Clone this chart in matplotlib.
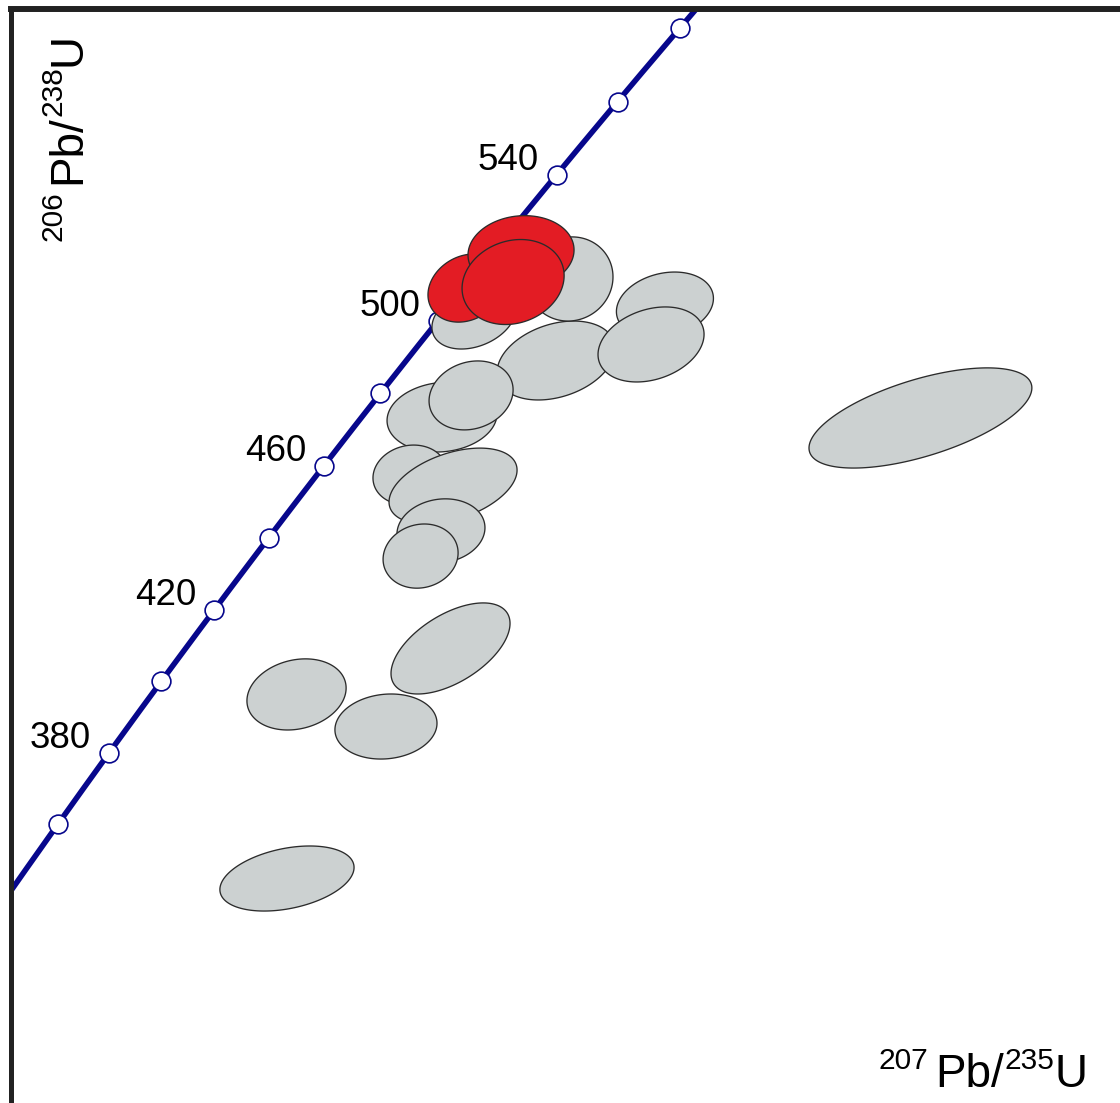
import numpy as np
import matplotlib.pyplot as plt

plt.rcParams['font.family'] = ['Liberation Sans', 'DejaVu Sans']

# U decay constants (1/yr)
lam238 = 1.55125e-10
lam235 = 9.8485e-10

# concordia age marks (Ma), labelled ones
marker_ages = [360, 380, 400, 420, 440, 460, 480, 500, 520, 540, 560, 580]
label_ages = [380, 420, 460, 500, 540]

# grey analyses: 207Pb/235U, 206Pb/238U, 2s errors, error correlation
grey_r75 = [0.7621, 0.7017, 0.7544, 0.7095, 0.6562, 0.6385, 0.6546, 0.6207,
            0.6446, 0.6379, 0.6266, 0.6432, 0.5578, 0.6074, 0.5525, 0.9038]
grey_r68 = [0.08137, 0.07881, 0.07955, 0.08257, 0.08077, 0.07620, 0.07720, 0.07353,
            0.07302, 0.07095, 0.06979, 0.06553, 0.06341, 0.06193, 0.05492, 0.07616]
grey_s75 = [0.0269, 0.0327, 0.0294, 0.0238, 0.0233, 0.0305, 0.0233, 0.0205,
            0.0355, 0.0244, 0.0208, 0.0330, 0.0275, 0.0283, 0.0372, 0.0618]
grey_s68 = [0.00152, 0.00182, 0.00173, 0.00194, 0.00143, 0.00161, 0.00159, 0.00138,
            0.00175, 0.00148, 0.00148, 0.00210, 0.00164, 0.00150, 0.00150, 0.00231]
grey_rho = [0.20, 0.30, 0.27, 0.05, 0.30, 0.10, 0.16, 0.10,
            0.42, 0.10, 0.10, 0.55, 0.18, 0.10, 0.34, 0.60]

# red (concordant) analyses
red_r75 = [0.6518, 0.6823, 0.6779]
red_r68 = [0.08215, 0.08379, 0.08243]
red_s75 = [0.0211, 0.0294, 0.0283]
red_s68 = [0.00157, 0.00170, 0.00196]
red_rho = [0.20, 0.07, 0.15]

navy = '#07078c'


def ratios(age_ma):
    t = np.asarray(age_ma, dtype=float) * 1e6
    return np.exp(lam235 * t) - 1, np.exp(lam238 * t) - 1


def ellipse(x, y, sx, sy, rho, n=200):
    t = np.linspace(0, 2 * np.pi, n)
    ex = x + sx * np.cos(t)
    ey = y + sy * (rho * np.cos(t) + np.sqrt(1 - rho ** 2) * np.sin(t))
    return ex, ey


fig = plt.figure(figsize=(11.2, 11.03), dpi=100)
ax = fig.add_axes([10.5 / 1120, 0, 1 - 10.5 / 1120, 1 - 9 / 1103])
ax.set_xlim(0.399178, 1.014473)
ax.set_ylim(0.044567, 0.095021)
ax.set_xticks([])
ax.set_yticks([])
for s in ['right', 'bottom']:
    ax.spines[s].set_visible(False)
ax.spines['left'].set_linewidth(3.6)
ax.spines['top'].set_linewidth(4.3)
for s in ['left', 'top']:
    ax.spines[s].set_color('#222222')
    ax.spines[s].set_capstyle('projecting')

# concordia
cx, cy = ratios(np.linspace(300, 620, 400))
ax.plot(cx, cy, color=navy, lw=4, zorder=2)
mx, my = ratios(marker_ages)
ax.plot(mx, my, 'o', ms=13.5, mfc='white', mec=navy, mew=1.2, zorder=3)
for age in label_ages:
    lx, ly = ratios(age)
    ax.annotate(str(age), xy=(lx, ly), xytext=(-13, 3.6), textcoords='offset points',
                ha='right', va='baseline', fontsize=26.5, color='black', zorder=6)

# error ellipses
for i in range(len(grey_r75)):
    ex, ey = ellipse(grey_r75[i], grey_r68[i], grey_s75[i], grey_s68[i], grey_rho[i])
    ax.fill(ex, ey, facecolor='#ccd1d1', edgecolor='#2b2b2b', lw=0.95, zorder=4 + i * 0.01)
for i in range(len(red_r75)):
    ex, ey = ellipse(red_r75[i], red_r68[i], red_s75[i], red_s68[i], red_rho[i])
    ax.fill(ex, ey, facecolor='#e31c24', edgecolor='#2b2b2b', lw=0.95, zorder=5 + i * 0.01)

# axis titles built from pieces so the superscripts sit right
big, small = 33, 21.5

u1 = ax.annotate('U', xy=(1087 / 1120, 1 - 1087 / 1103), xycoords='figure fraction',
                 ha='right', va='baseline', fontsize=big)
s1 = ax.annotate('235', xy=(0, 1), xycoords=u1, xytext=(0, 4.5), textcoords='offset points',
                 ha='right', va='top', fontsize=small)
p1 = ax.annotate('Pb/', xy=(0, 1 - 1087 / 1103), xycoords=(s1, 'figure fraction'),
                 ha='right', va='baseline', fontsize=big)
ax.annotate('207', xy=(0, 1), xycoords=p1, xytext=(-5, 4.5), textcoords='offset points',
            ha='right', va='top', fontsize=small)

u2 = ax.annotate('U', xy=(80 / 1120, 1 - 33 / 1103), xycoords='figure fraction',
                 ha='right', va='baseline', fontsize=big, rotation=90, rotation_mode='anchor')
s2 = ax.annotate('238', xy=(0, 0), xycoords=u2, xytext=(-4.5, 0), textcoords='offset points',
                 ha='right', va='top', fontsize=small, rotation=90, rotation_mode='anchor')
p2 = ax.annotate('Pb/', xy=(80 / 1120, 0), xycoords=('figure fraction', s2),
                 ha='right', va='baseline', fontsize=big, rotation=90, rotation_mode='anchor')
ax.annotate('206', xy=(0, 0), xycoords=p2, xytext=(-4.5, -5), textcoords='offset points',
            ha='right', va='top', fontsize=small, rotation=90, rotation_mode='anchor')

fig.savefig('out.png', dpi=100, facecolor='white')
